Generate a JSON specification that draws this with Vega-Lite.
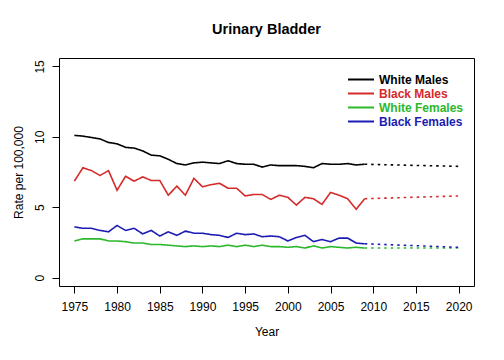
{
  "$schema": "https://vega.github.io/schema/vega-lite/v6.json",
  "width": 415,
  "height": 228,
  "autosize": {"type": "none"},
  "padding": {"left": 59, "top": 58, "right": 30, "bottom": 74},
  "title": {"text": "Urinary Bladder", "font": "Liberation Sans", "fontSize": 14.5, "fontWeight": "bold", "color": "#000", "offset": 21, "anchor": "middle"},
  "config": {
    "view": {"stroke": "#000", "strokeWidth": 1},
    "axis": {"domain": false, "grid": false, "tickColor": "#000", "tickSize": 7, "labelFont": "Liberation Sans", "labelFontSize": 12, "labelColor": "#000", "titleFont": "Liberation Sans", "titleFontSize": 12, "titleFontWeight": "normal", "titleColor": "#000"}
  },
  "data": {"values": [
    {"year":1975,"series":"White Males","type":"obs","rate":10.1},
    {"year":1976,"series":"White Males","type":"obs","rate":10.05},
    {"year":1977,"series":"White Males","type":"obs","rate":9.95},
    {"year":1978,"series":"White Males","type":"obs","rate":9.85},
    {"year":1979,"series":"White Males","type":"obs","rate":9.6},
    {"year":1980,"series":"White Males","type":"obs","rate":9.5},
    {"year":1981,"series":"White Males","type":"obs","rate":9.25},
    {"year":1982,"series":"White Males","type":"obs","rate":9.2},
    {"year":1983,"series":"White Males","type":"obs","rate":9.0},
    {"year":1984,"series":"White Males","type":"obs","rate":8.7},
    {"year":1985,"series":"White Males","type":"obs","rate":8.65},
    {"year":1986,"series":"White Males","type":"obs","rate":8.4},
    {"year":1987,"series":"White Males","type":"obs","rate":8.1},
    {"year":1988,"series":"White Males","type":"obs","rate":8.0},
    {"year":1989,"series":"White Males","type":"obs","rate":8.15},
    {"year":1990,"series":"White Males","type":"obs","rate":8.2},
    {"year":1991,"series":"White Males","type":"obs","rate":8.15},
    {"year":1992,"series":"White Males","type":"obs","rate":8.1},
    {"year":1993,"series":"White Males","type":"obs","rate":8.3},
    {"year":1994,"series":"White Males","type":"obs","rate":8.1},
    {"year":1995,"series":"White Males","type":"obs","rate":8.05},
    {"year":1996,"series":"White Males","type":"obs","rate":8.05},
    {"year":1997,"series":"White Males","type":"obs","rate":7.85},
    {"year":1998,"series":"White Males","type":"obs","rate":8.0},
    {"year":1999,"series":"White Males","type":"obs","rate":7.95},
    {"year":2000,"series":"White Males","type":"obs","rate":7.95},
    {"year":2001,"series":"White Males","type":"obs","rate":7.95},
    {"year":2002,"series":"White Males","type":"obs","rate":7.9},
    {"year":2003,"series":"White Males","type":"obs","rate":7.8},
    {"year":2004,"series":"White Males","type":"obs","rate":8.1},
    {"year":2005,"series":"White Males","type":"obs","rate":8.05},
    {"year":2006,"series":"White Males","type":"obs","rate":8.05},
    {"year":2007,"series":"White Males","type":"obs","rate":8.1},
    {"year":2008,"series":"White Males","type":"obs","rate":8.0},
    {"year":2009,"series":"White Males","type":"obs","rate":8.05},
    {"year":2009,"series":"White Males","type":"proj","rate":8.05},
    {"year":2020,"series":"White Males","type":"proj","rate":7.9},
    {"year":1975,"series":"Black Males","type":"obs","rate":6.85},
    {"year":1976,"series":"Black Males","type":"obs","rate":7.8},
    {"year":1977,"series":"Black Males","type":"obs","rate":7.6},
    {"year":1978,"series":"Black Males","type":"obs","rate":7.25},
    {"year":1979,"series":"Black Males","type":"obs","rate":7.6},
    {"year":1980,"series":"Black Males","type":"obs","rate":6.2},
    {"year":1981,"series":"Black Males","type":"obs","rate":7.2},
    {"year":1982,"series":"Black Males","type":"obs","rate":6.85},
    {"year":1983,"series":"Black Males","type":"obs","rate":7.15},
    {"year":1984,"series":"Black Males","type":"obs","rate":6.9},
    {"year":1985,"series":"Black Males","type":"obs","rate":6.9},
    {"year":1986,"series":"Black Males","type":"obs","rate":5.85},
    {"year":1987,"series":"Black Males","type":"obs","rate":6.5},
    {"year":1988,"series":"Black Males","type":"obs","rate":5.85},
    {"year":1989,"series":"Black Males","type":"obs","rate":7.05},
    {"year":1990,"series":"Black Males","type":"obs","rate":6.45},
    {"year":1991,"series":"Black Males","type":"obs","rate":6.6},
    {"year":1992,"series":"Black Males","type":"obs","rate":6.7},
    {"year":1993,"series":"Black Males","type":"obs","rate":6.35},
    {"year":1994,"series":"Black Males","type":"obs","rate":6.35},
    {"year":1995,"series":"Black Males","type":"obs","rate":5.8},
    {"year":1996,"series":"Black Males","type":"obs","rate":5.9},
    {"year":1997,"series":"Black Males","type":"obs","rate":5.9},
    {"year":1998,"series":"Black Males","type":"obs","rate":5.55},
    {"year":1999,"series":"Black Males","type":"obs","rate":5.85},
    {"year":2000,"series":"Black Males","type":"obs","rate":5.7},
    {"year":2001,"series":"Black Males","type":"obs","rate":5.15},
    {"year":2002,"series":"Black Males","type":"obs","rate":5.7},
    {"year":2003,"series":"Black Males","type":"obs","rate":5.6},
    {"year":2004,"series":"Black Males","type":"obs","rate":5.2},
    {"year":2005,"series":"Black Males","type":"obs","rate":6.05},
    {"year":2006,"series":"Black Males","type":"obs","rate":5.85},
    {"year":2007,"series":"Black Males","type":"obs","rate":5.6},
    {"year":2008,"series":"Black Males","type":"obs","rate":4.85},
    {"year":2009,"series":"Black Males","type":"obs","rate":5.6},
    {"year":2009,"series":"Black Males","type":"proj","rate":5.6},
    {"year":2020,"series":"Black Males","type":"proj","rate":5.8},
    {"year":1975,"series":"White Females","type":"obs","rate":2.6},
    {"year":1976,"series":"White Females","type":"obs","rate":2.75},
    {"year":1977,"series":"White Females","type":"obs","rate":2.75},
    {"year":1978,"series":"White Females","type":"obs","rate":2.75},
    {"year":1979,"series":"White Females","type":"obs","rate":2.6},
    {"year":1980,"series":"White Females","type":"obs","rate":2.6},
    {"year":1981,"series":"White Females","type":"obs","rate":2.55},
    {"year":1982,"series":"White Females","type":"obs","rate":2.45},
    {"year":1983,"series":"White Females","type":"obs","rate":2.45},
    {"year":1984,"series":"White Females","type":"obs","rate":2.35},
    {"year":1985,"series":"White Females","type":"obs","rate":2.35},
    {"year":1986,"series":"White Females","type":"obs","rate":2.3},
    {"year":1987,"series":"White Females","type":"obs","rate":2.25},
    {"year":1988,"series":"White Females","type":"obs","rate":2.2},
    {"year":1989,"series":"White Females","type":"obs","rate":2.25},
    {"year":1990,"series":"White Females","type":"obs","rate":2.2},
    {"year":1991,"series":"White Females","type":"obs","rate":2.25},
    {"year":1992,"series":"White Females","type":"obs","rate":2.2},
    {"year":1993,"series":"White Females","type":"obs","rate":2.3},
    {"year":1994,"series":"White Females","type":"obs","rate":2.2},
    {"year":1995,"series":"White Females","type":"obs","rate":2.3},
    {"year":1996,"series":"White Females","type":"obs","rate":2.2},
    {"year":1997,"series":"White Females","type":"obs","rate":2.3},
    {"year":1998,"series":"White Females","type":"obs","rate":2.2},
    {"year":1999,"series":"White Females","type":"obs","rate":2.2},
    {"year":2000,"series":"White Females","type":"obs","rate":2.15},
    {"year":2001,"series":"White Females","type":"obs","rate":2.2},
    {"year":2002,"series":"White Females","type":"obs","rate":2.1},
    {"year":2003,"series":"White Females","type":"obs","rate":2.25},
    {"year":2004,"series":"White Females","type":"obs","rate":2.1},
    {"year":2005,"series":"White Females","type":"obs","rate":2.2},
    {"year":2006,"series":"White Females","type":"obs","rate":2.15},
    {"year":2007,"series":"White Females","type":"obs","rate":2.1},
    {"year":2008,"series":"White Females","type":"obs","rate":2.15},
    {"year":2009,"series":"White Females","type":"obs","rate":2.1},
    {"year":2009,"series":"White Females","type":"proj","rate":2.1},
    {"year":2020,"series":"White Females","type":"proj","rate":2.1},
    {"year":1975,"series":"Black Females","type":"obs","rate":3.6},
    {"year":1976,"series":"Black Females","type":"obs","rate":3.5},
    {"year":1977,"series":"Black Females","type":"obs","rate":3.5},
    {"year":1978,"series":"Black Females","type":"obs","rate":3.35},
    {"year":1979,"series":"Black Females","type":"obs","rate":3.25},
    {"year":1980,"series":"Black Females","type":"obs","rate":3.7},
    {"year":1981,"series":"Black Females","type":"obs","rate":3.35},
    {"year":1982,"series":"Black Females","type":"obs","rate":3.5},
    {"year":1983,"series":"Black Females","type":"obs","rate":3.1},
    {"year":1984,"series":"Black Females","type":"obs","rate":3.35},
    {"year":1985,"series":"Black Females","type":"obs","rate":2.95},
    {"year":1986,"series":"Black Females","type":"obs","rate":3.25},
    {"year":1987,"series":"Black Females","type":"obs","rate":3.0},
    {"year":1988,"series":"Black Females","type":"obs","rate":3.3},
    {"year":1989,"series":"Black Females","type":"obs","rate":3.15},
    {"year":1990,"series":"Black Females","type":"obs","rate":3.15},
    {"year":1991,"series":"Black Females","type":"obs","rate":3.05},
    {"year":1992,"series":"Black Females","type":"obs","rate":3.0},
    {"year":1993,"series":"Black Females","type":"obs","rate":2.85},
    {"year":1994,"series":"Black Females","type":"obs","rate":3.15},
    {"year":1995,"series":"Black Females","type":"obs","rate":3.05},
    {"year":1996,"series":"Black Females","type":"obs","rate":3.1},
    {"year":1997,"series":"Black Females","type":"obs","rate":2.9},
    {"year":1998,"series":"Black Females","type":"obs","rate":2.95},
    {"year":1999,"series":"Black Females","type":"obs","rate":2.9},
    {"year":2000,"series":"Black Females","type":"obs","rate":2.6},
    {"year":2001,"series":"Black Females","type":"obs","rate":2.85},
    {"year":2002,"series":"Black Females","type":"obs","rate":3.0},
    {"year":2003,"series":"Black Females","type":"obs","rate":2.55},
    {"year":2004,"series":"Black Females","type":"obs","rate":2.7},
    {"year":2005,"series":"Black Females","type":"obs","rate":2.55},
    {"year":2006,"series":"Black Females","type":"obs","rate":2.8},
    {"year":2007,"series":"Black Females","type":"obs","rate":2.8},
    {"year":2008,"series":"Black Females","type":"obs","rate":2.45},
    {"year":2009,"series":"Black Females","type":"obs","rate":2.4},
    {"year":2009,"series":"Black Females","type":"proj","rate":2.4},
    {"year":2020,"series":"Black Females","type":"proj","rate":2.15}
  ]},
  "mark": {"type": "line", "strokeWidth": 1.6, "clip": true},
  "encoding": {
    "x": {"field": "year", "type": "quantitative", "title": "Year",
      "scale": {"domain": [1973.2, 2021.8], "nice": false, "zero": false},
      "axis": {"values": [1975,1980,1985,1990,1995,2000,2005,2010,2015,2020], "format": "d", "labelPadding": 8, "titlePadding": 14}},
    "y": {"field": "rate", "type": "quantitative", "title": "Rate per 100,000",
      "scale": {"domain": [-0.6, 15.6], "nice": false, "zero": false},
      "axis": {"values": [0,5,10,15], "labelAngle": 270, "labelAlign": "center", "labelBaseline": "bottom", "labelPadding": 6, "titlePadding": 8}},
    "color": {"field": "series", "type": "nominal",
      "scale": {"domain": ["White Males","Black Males","White Females","Black Females"], "range": ["#000000","#d42a2a","#2cb82c","#1c1cb4"]},
      "legend": {"title": null, "orient": "none", "legendX": 301, "legendY": 14, "symbolType": "M-3,0L1,0", "symbolSize": 169, "symbolStrokeWidth": 2, "labelFont": "Liberation Sans", "labelFontSize": 12, "labelFontWeight": "bold", "labelOffset": 4, "rowPadding": -1, "labelLimit": 200,
        "encode": {"labels": {"update": {"fill": {"scale": "color", "field": "value"}}}}}},
    "detail": {"field": "type"},
    "strokeDash": {"field": "type", "type": "nominal", "scale": {"domain": ["obs","proj"], "range": [[1,0],[2.5,4]]}, "legend": null}
  }
}
